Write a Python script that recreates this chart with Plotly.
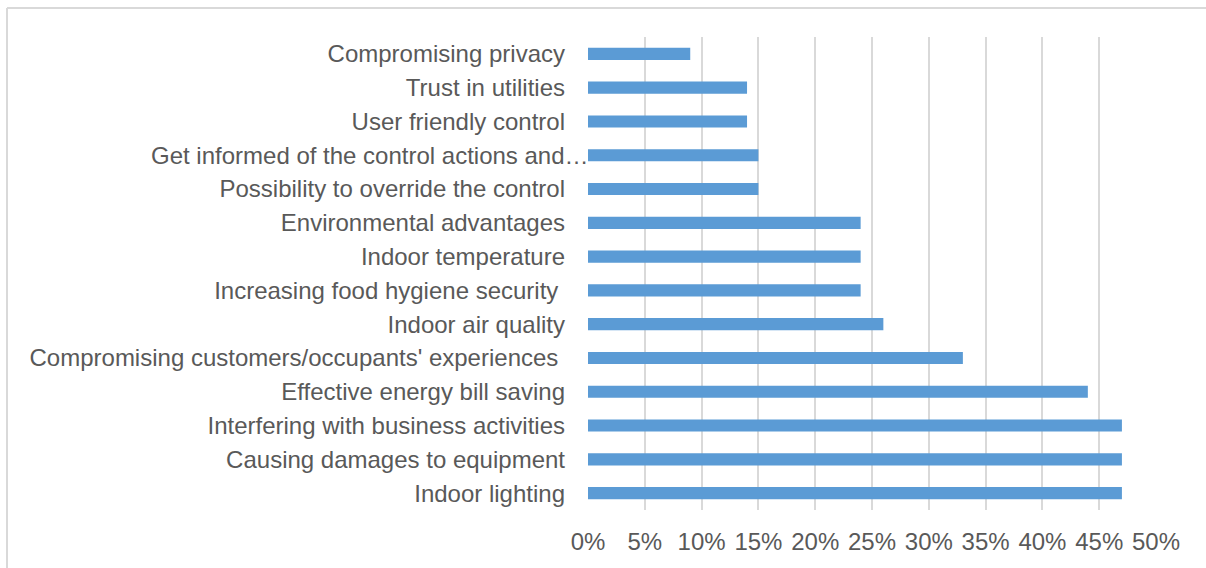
import plotly.graph_objects as go

# Survey factors (top to bottom as displayed) and share of respondents
categories = [
    "Compromising privacy",
    "Trust in utilities",
    "User friendly control",
    "Get informed of the control actions and\u2026",
    "Possibility to override the control",
    "Environmental advantages",
    "Indoor temperature",
    "Increasing food hygiene security\u00a0",
    "Indoor air quality",
    "Compromising customers/occupants' experiences\u00a0",
    "Effective energy bill saving",
    "Interfering with business activities",
    "Causing damages to equipment",
    "Indoor lighting",
]
shares = [0.09, 0.14, 0.14, 0.15, 0.15, 0.24, 0.24, 0.24, 0.26, 0.33, 0.44, 0.47, 0.47, 0.47]

x_ticks = [0, 0.05, 0.10, 0.15, 0.20, 0.25, 0.30, 0.35, 0.40, 0.45, 0.50]

# The truncated label runs right up to the axis, so it is drawn as an annotation
truncated = "Get informed of the control actions and\u2026"

W, H = 1206, 568
L, R, T, B = 588, 50, 37, 58
TEXT = "#595959"
GRID = "#D9D9D9"
FONT = "Liberation Sans, Arial, sans-serif"
FS = 24

fig = go.Figure(
    go.Bar(
        y=categories,
        x=shares,
        orientation="h",
        marker=dict(color="#5B9BD5", line=dict(width=0)),
        width=0.36,
        hoverinfo="x+y",
    )
)

plot_w = W - L - R
plot_h = H - T - B

# Light frame around the chart (top and left edges are in view)
fx0 = (7 - L) / plot_w
fx1 = (W + 50 - L) / plot_w
fy0 = -(B + 50) / plot_h
fy1 = 1 + (T - 8) / plot_h
for x0, y0, x1, y1 in [(fx0, fy1, fx1, fy1), (fx0, fy0, fx0, fy1)]:
    fig.add_shape(
        type="line", xref="paper", yref="paper",
        x0=x0, y0=y0, x1=x1, y1=y1,
        line=dict(color=GRID, width=2),
        layer="below",
    )

tick_text = ["" if c == truncated else c for c in categories]

fig.add_annotation(
    xref="paper", x=0, xanchor="right",
    yref="y", y=truncated,
    text=truncated,
    showarrow=False,
    font=dict(family=FONT, size=FS, color=TEXT),
    xshift=3,
)

fig.update_layout(
    width=W,
    height=H,
    margin=dict(l=L, r=R, t=T, b=B, pad=0),
    paper_bgcolor="white",
    plot_bgcolor="white",
    showlegend=False,
    bargap=0.64,
    font=dict(family=FONT, size=FS, color=TEXT),
    xaxis=dict(
        range=[0, 0.5],
        tickvals=x_ticks,
        tickformat=".0%",
        showgrid=True,
        gridcolor=GRID,
        gridwidth=1.5,
        zeroline=False,
        showline=False,
        ticks="",
        ticklabelstandoff=15,
        tickfont=dict(family=FONT, size=FS, color=TEXT),
        fixedrange=True,
    ),
    yaxis=dict(
        categoryorder="array",
        categoryarray=list(reversed(categories)),
        tickmode="array",
        tickvals=categories,
        ticktext=tick_text,
        autorange=True,
        showgrid=False,
        zeroline=False,
        showline=False,
        ticks="",
        ticklabelstandoff=22,
        tickfont=dict(family=FONT, size=FS, color=TEXT),
        fixedrange=True,
    ),
)

fig.write_html("out.html", config={"displayModeBar": False})
